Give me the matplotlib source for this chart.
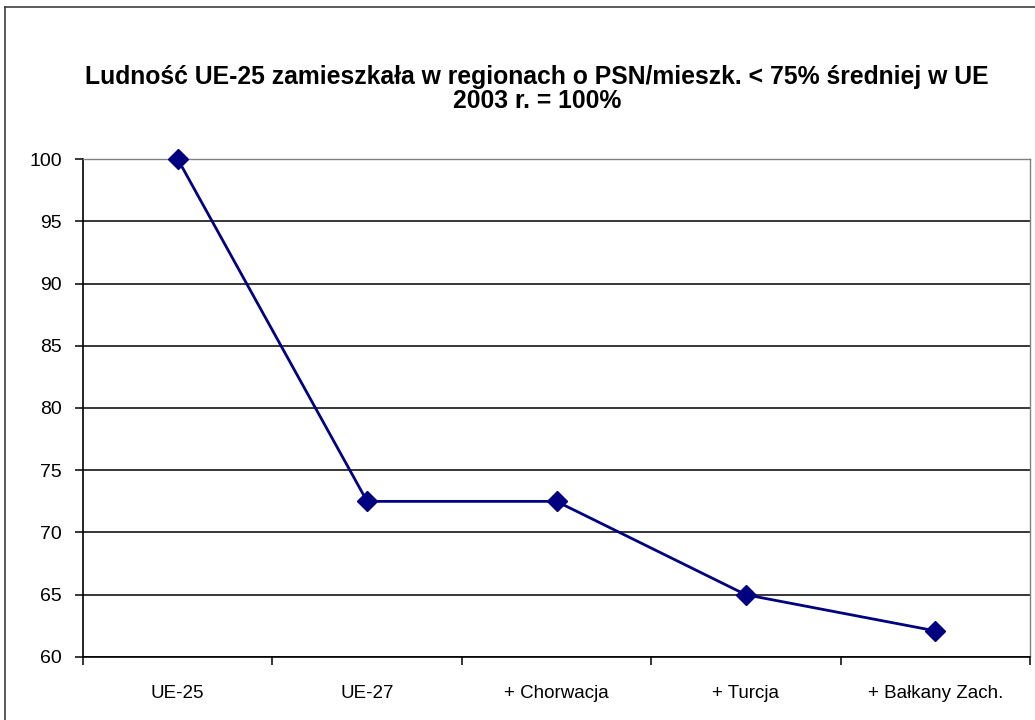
import matplotlib
matplotlib.use("Agg")
import matplotlib.pyplot as plt
from matplotlib.lines import Line2D

categories = ["UE-25", "UE-27", "+ Chorwacja", "+ Turcja", "+ Bałkany Zach."]
values = [100.0, 72.5, 72.5, 65.0, 62.1]
yticks = [60, 65, 70, 75, 80, 85, 90, 95, 100]
title_lines = ["Ludność UE-25 zamieszkała w regionach o PSN/mieszk. < 75% średniej w UE",
               "2003 r. = 100%"]

plt.rcParams['font.family'] = ['Liberation Sans', 'DejaVu Sans']

W, H = 1035, 720
fig = plt.figure(figsize=(W/100, H/100), dpi=100)
fig.patch.set_facecolor("white")

# outer chart border (only left and top edges fall inside the image)
fig.add_artist(Line2D([4.5/W, 4.5/W], [0, 1 - 7/H], transform=fig.transFigure,
                      color="#404040", linewidth=1.2))
fig.add_artist(Line2D([4.5/W, 1], [1 - 7/H, 1 - 7/H], transform=fig.transFigure,
                      color="#404040", linewidth=1.2))

ax = fig.add_axes([83/W, 1 - 657/H, (1030-83)/W, (657-159)/H])
x = list(range(len(categories)))
ax.plot(x, values, color="#000080", linewidth=2, marker="D", markersize=10,
        markerfacecolor="#000080", markeredgecolor="#000080", zorder=5, clip_on=False)

ax.set_xlim(-0.5, len(categories) - 0.5)
ax.set_ylim(60, 100)
ax.set_yticks(yticks)
ax.set_yticklabels([str(v) for v in yticks], fontsize=14)
ax.yaxis.grid(True, color="black", linewidth=1.1)
ax.set_axisbelow(True)

ax.set_xticks(x)
ax.set_xticklabels(categories, fontsize=13.5)
ax.set_xticks([i - 0.5 for i in range(len(categories) + 1)], minor=True)
ax.tick_params(axis="x", which="major", length=0, pad=20)
ax.tick_params(axis="x", which="minor", length=6, width=1.1, direction="out")
ax.tick_params(axis="y", length=6, width=1.1, direction="out", pad=9)

for s in ["left", "bottom"]:
    ax.spines[s].set_color("black")
    ax.spines[s].set_linewidth(1.2)
for s in ["top", "right"]:
    ax.spines[s].set_color("#808080")
    ax.spines[s].set_linewidth(1.0)

fig.text(537/W, 1 - 77/H, title_lines[0], ha="center", va="center", fontsize=17.8,
         fontweight="bold")
fig.text(537/W, 1 - 101/H, title_lines[1], ha="center", va="center", fontsize=17.8,
         fontweight="bold")

fig.savefig("out.png", dpi=100)
